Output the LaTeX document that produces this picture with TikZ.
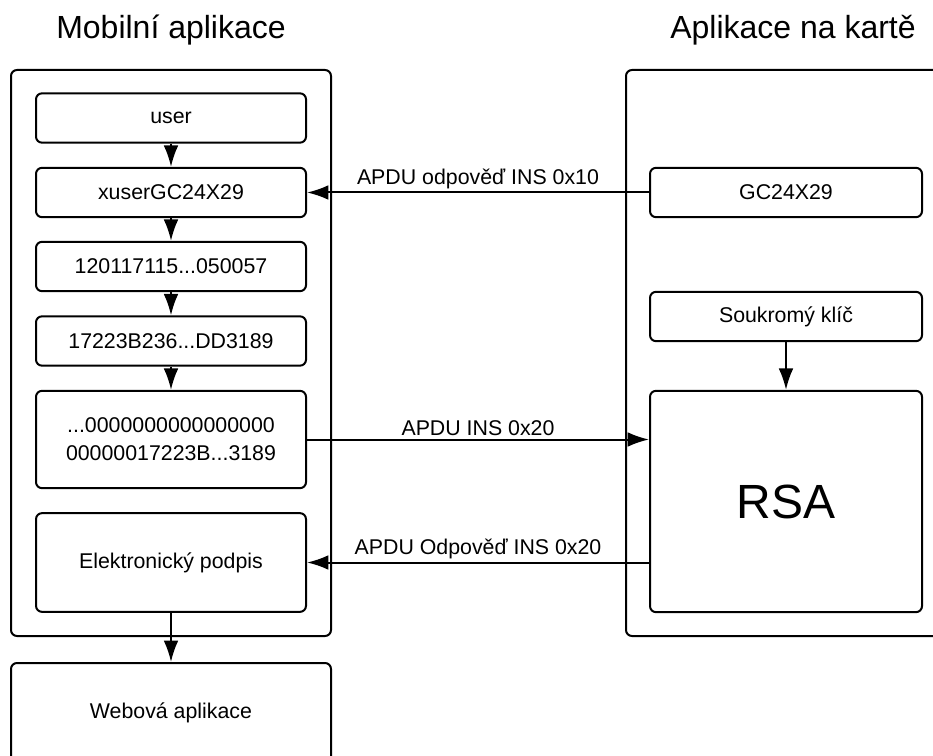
\documentclass[tikz,border=0pt]{standalone}
\usepackage{fontspec}
\setmainfont{Liberation Sans}
\usetikzlibrary{arrows.meta}

\begin{document}
\begin{tikzpicture}[x=0.75pt,y=-0.75pt,
  frame/.style={draw,line width=1.5pt,rounded corners=4.5pt},
  box/.style={frame,minimum width=202.5pt,minimum height=37pt,inner sep=2pt,align=center,font=\fontsize{16}{21}\selectfont},
  cardbox/.style={box,minimum width=204pt},
  flow/.style={-{Latex[length=16pt,width=11pt]},line width=1.5pt},
  title/.style={font=\fontsize{24}{28}\selectfont},
  msg/.style={above,inner sep=2pt,font=\fontsize{16}{19}\selectfont}]
\useasboundingbox (0,0) rectangle (933,756);
% containers
\draw[frame] (11,70) rectangle (331,636);
\draw[frame] (626,70) rectangle (960,636);
\node[title] (mobile) at (171,30) {Mobilní aplikace};
\node[title] (card) at (793,30) {Aplikace na kartě};
% mobile application
\node[box] (user) at (171,118) {user};
\node[box] (xuser) at (171,192.5) {xuserGC24X29};
\node[box] (dec) at (171,266.5) {120117115...050057};
\node[box] (hash) at (171,341) {17223B236...DD3189};
\node[box,minimum height=73pt] (pad) at (171,439.5) {...0000000000000000\\00000017223B...3189};
\node[box,minimum height=74pt] (sig) at (171,562.5) {Elektronický podpis};
\node[box,minimum width=240pt,minimum height=75pt,anchor=north] (web) at (171,662) {Webová aplikace};
% card application
\node[cardbox] (code) at (786,192.5) {GC24X29};
\node[cardbox] (key) at (786,316.5) {Soukromý klíč};
\node[cardbox,minimum height=166pt,font=\fontsize{36}{40}\selectfont] (rsa) at (786,501.5) {RSA};
% arrows
\draw[flow] (user) -- (xuser);
\draw[flow] (xuser) -- (dec);
\draw[flow] (dec) -- (hash);
\draw[flow] (hash) -- (pad);
\draw[flow] (sig) -- (web);
\draw[flow] (key) -- (rsa);
\draw[flow] (code) -- (xuser) node[msg,midway] {APDU odpověď INS 0x10};
\draw[flow] (pad) -- (pad -| rsa.west) node[msg,midway] {APDU INS 0x20};
\draw[flow] (rsa.west |- sig) -- (sig) node[msg,midway] {APDU Odpověď INS 0x20};
\end{tikzpicture}
\end{document}
